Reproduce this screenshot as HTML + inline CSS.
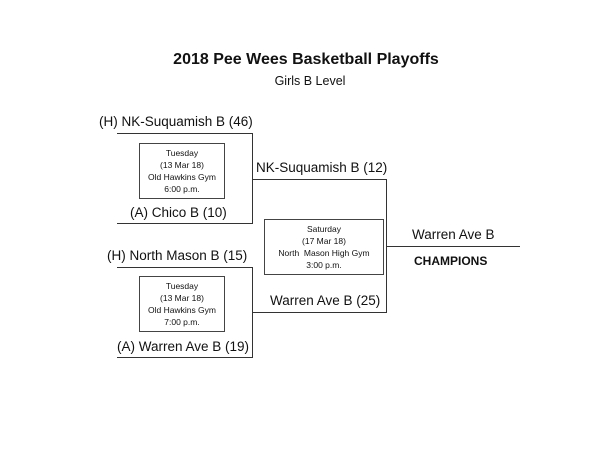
<!DOCTYPE html>
<html><head><style>
body{margin:0;width:600px;height:450px;background:#fff;font-family:"Liberation Sans",sans-serif;color:#111;position:relative;overflow:hidden}
.a{position:absolute;white-space:nowrap}
.l{position:absolute;background:#333}
.box{position:absolute;border:1px solid #444;font-size:8.5px;text-align:center;line-height:12px;box-sizing:border-box;padding-top:3px}
.t{font-size:13.5px}
</style></head><body>
<div class="a" style="left:0;width:600px;text-align:center;top:51px;font-size:16px;font-weight:bold;padding-left:12px;box-sizing:border-box">2018 Pee Wees Basketball Playoffs</div>
<div class="a" style="left:0;width:600px;text-align:center;top:74px;font-size:12.5px;padding-left:20px;box-sizing:border-box">Girls B Level</div>

<div class="l" style="left:117px;top:133px;width:136px;height:1px"></div>
<div class="l" style="left:117px;top:223px;width:136px;height:1px"></div>
<div class="l" style="left:252px;top:133px;width:1px;height:91px"></div>
<div class="l" style="left:252px;top:179px;width:135px;height:1px"></div>
<div class="l" style="left:117px;top:267px;width:136px;height:1px"></div>
<div class="l" style="left:117px;top:357px;width:136px;height:1px"></div>
<div class="l" style="left:252px;top:267px;width:1px;height:91px"></div>
<div class="l" style="left:252px;top:312px;width:135px;height:1px"></div>
<div class="l" style="left:386px;top:179px;width:1px;height:134px"></div>
<div class="l" style="left:386px;top:246px;width:134px;height:1px"></div>

<div class="a t" style="left:99px;top:114px">(H) NK-Suquamish B (46)</div>
<div class="a t" style="left:130px;top:205px">(A) Chico B (10)</div>
<div class="a t" style="left:256px;top:160px">NK-Suquamish B (12)</div>
<div class="a t" style="left:107px;top:248px">(H) North Mason B (15)</div>
<div class="a t" style="left:117px;top:339px">(A) Warren Ave B (19)</div>
<div class="a t" style="left:270px;top:293px">Warren Ave B (25)</div>
<div class="a t" style="left:412px;top:227px">Warren Ave B</div>
<div class="a" style="left:414px;top:254px;font-size:12px;font-weight:bold">CHAMPIONS</div>

<div class="box" style="left:139px;top:143px;width:86px;height:56px">Tuesday<br>(13 Mar 18)<br>Old Hawkins Gym<br>6:00 p.m.</div>
<div class="box" style="left:139px;top:276px;width:86px;height:56px">Tuesday<br>(13 Mar 18)<br>Old Hawkins Gym<br>7:00 p.m.</div>
<div class="box" style="left:264px;top:219px;width:120px;height:56px">Saturday<br>(17 Mar 18)<br>North&nbsp; Mason High Gym<br>3:00 p.m.</div>
</body></html>
